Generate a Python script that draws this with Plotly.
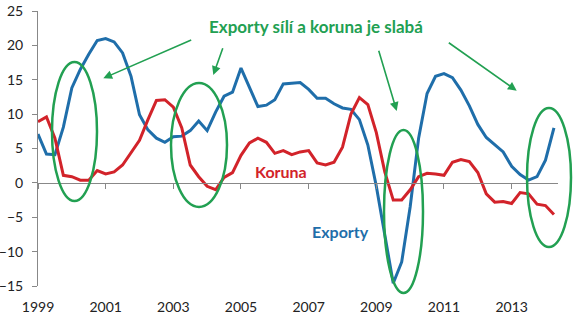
import plotly.graph_objects as go

# ---- data (quarterly, 1999Q1 .. 2014Q2) ----
quarters = [1999 + i * 0.25 for i in range(62)]

exporty = [7.1, 4.2, 4.1, 8.1, 13.8, 16.5, 18.7, 20.7,
           21.0, 20.5, 18.9, 15.5, 9.9, 7.7, 6.5, 5.9,
           6.7, 6.8, 7.6, 9.0, 7.6, 10.3, 12.6, 13.2,
           16.7, 14.0, 11.1, 11.3, 12.1, 14.4, 14.5, 14.6,
           13.6, 12.3, 12.3, 11.5, 10.9, 10.7, 9.2, 5.5,
           -0.5, -7.5, -14.6, -11.5, -3.5, 6.5, 13.0, 15.5,
           15.9, 15.3, 13.5, 11.2, 8.5, 6.6, 5.5, 4.5,
           2.4, 1.2, 0.4, 0.9, 3.3, 8.0]

koruna = [8.9, 9.6, 6.5, 1.1, 0.9, 0.4, 0.4, 1.8,
          1.3, 1.6, 2.6, 4.4, 6.2, 9.2, 12.0, 12.1,
          11.0, 8.0, 2.6, 0.9, -0.5, -1.0, 0.8, 1.5,
          4.0, 5.8, 6.5, 5.9, 4.3, 4.7, 4.1, 4.5,
          4.7, 2.9, 2.6, 3.0, 5.2, 10.0, 12.4, 11.4,
          7.3, 1.6, -2.5, -2.5, -1.0, 0.9, 1.4, 1.3,
          1.1, 3.0, 3.4, 3.1, 1.5, -1.6, -2.8, -2.7,
          -3.0, -1.4, -1.6, -3.1, -3.3, -4.6]

tick_years = [1999, 2001, 2003, 2005, 2007, 2009, 2011, 2013]
tick_labels = [str(y) for y in tick_years]
y_ticks = [-15, -10, -5, 0, 5, 10, 15, 20, 25]

title_text = "Exporty sílí a koruna je slabá"
label_koruna = "Koruna"
label_exporty = "Exporty"

# ---- layout geometry ----
W, H = 573, 323
ML, MR, MT, MB = 38, 15, 11, 37
PW, PH = W - ML - MR, H - MT - MB
X_RANGE = [1999, 2014.37]
Y_RANGE = [-15, 25]


def px(xp):
    return (xp - ML) / PW


def py(yp):
    return (H - MB - yp) / PH


BLUE = "#1F6EAA"
RED = "#D2232A"
GREEN = "#22A052"
FONT = "Lato"

fig = go.Figure()
fig.add_trace(go.Scatter(x=quarters, y=exporty, mode="lines",
                         line=dict(color=BLUE, width=3), name="Exporty",
                         hoverinfo="skip"))
fig.add_trace(go.Scatter(x=quarters, y=koruna, mode="lines",
                         line=dict(color=RED, width=3), name="Koruna",
                         hoverinfo="skip"))
# dummy trace to carry the axis drawn at zero
fig.add_trace(go.Scatter(x=[1999], y=[0], xaxis="x2", yaxis="y", mode="lines",
                         showlegend=False, hoverinfo="skip",
                         line=dict(color="rgba(0,0,0,0)")))

# ellipses (pixel boxes)
ellipses = [(52, 62, 97, 201), (171, 83, 227, 207), (384, 130, 423, 293),
            (527, 108, 571, 247)]
shapes = []
for x0, y0, x1, y1 in ellipses:
    shapes.append(dict(type="circle", xref="paper", yref="paper",
                       x0=px(x0), x1=px(x1), y0=py(y1), y1=py(y0),
                       line=dict(color=GREEN, width=2.5), layer="above"))

annotations = [
    dict(text=f"<b>{title_text}</b>", x=px(316), y=py(26), xref="paper", yref="paper",
         xanchor="center", yanchor="middle",
         showarrow=False, font=dict(family=FONT, size=17, color=GREEN)),
    dict(text=f"<b>{label_koruna}</b>", x=px(280.5), y=py(171), xref="paper", yref="paper",
         xanchor="center", yanchor="middle",
         showarrow=False, font=dict(family=FONT, size=16, color=RED)),
    dict(text=f"<b>{label_exporty}</b>", x=px(340), y=py(231), xref="paper", yref="paper",
         xanchor="center", yanchor="middle",
         showarrow=False, font=dict(family=FONT, size=16, color=BLUE)),
]
arrows = [((192.7, 39.3), (103.3, 78.3)), ((223.3, 46.7), (213.3, 75)),
          ((378.3, 49.3), (396.7, 111)), ((447.3, 41.7), (516.7, 90.7))]
for (tx, ty), (hx, hy) in arrows:
    annotations.append(dict(x=px(hx), y=py(hy), xref="paper", yref="paper",
                            ax=tx - hx, ay=ty - hy, axref="pixel", ayref="pixel",
                            text="", showarrow=True, arrowhead=2, arrowsize=1.1,
                            arrowwidth=1.6, arrowcolor=GREEN))

fig.update_layout(
    width=W, height=H,
    margin=dict(l=ML, r=MR, t=MT, b=MB, pad=0, autoexpand=False),
    paper_bgcolor="white", plot_bgcolor="white",
    showlegend=False,
    font=dict(family=FONT, size=14, color="#222"),
    shapes=shapes, annotations=annotations,
    xaxis=dict(range=X_RANGE, tickvals=tick_years, ticktext=tick_labels,
               showgrid=False, zeroline=False, showline=False, automargin=False,
               ticks="outside", ticklen=8, tickcolor="rgba(0,0,0,0)",
               tickfont=dict(family=FONT, size=14, color="#222")),
    xaxis2=dict(range=X_RANGE, overlaying="x", anchor="free",
                position=py(183), side="bottom", automargin=False,
                tickvals=tick_years, showticklabels=False,
                showgrid=False, zeroline=False, showline=True,
                linecolor="#888", linewidth=1,
                ticks="outside", ticklen=5, tickcolor="#888"),
    yaxis=dict(range=Y_RANGE, tickvals=y_ticks, showgrid=False, zeroline=False,
               showline=True, linecolor="#888", linewidth=1, automargin=False,
               ticks="outside", ticklen=5, tickcolor="#888",
               ticklabelstandoff=6,
               tickfont=dict(family=FONT, size=14, color="#222")),
)

fig.write_html("out.html",
               post_script="document.body.style.margin='0';"
                           "document.body.style.overflow='hidden';")
